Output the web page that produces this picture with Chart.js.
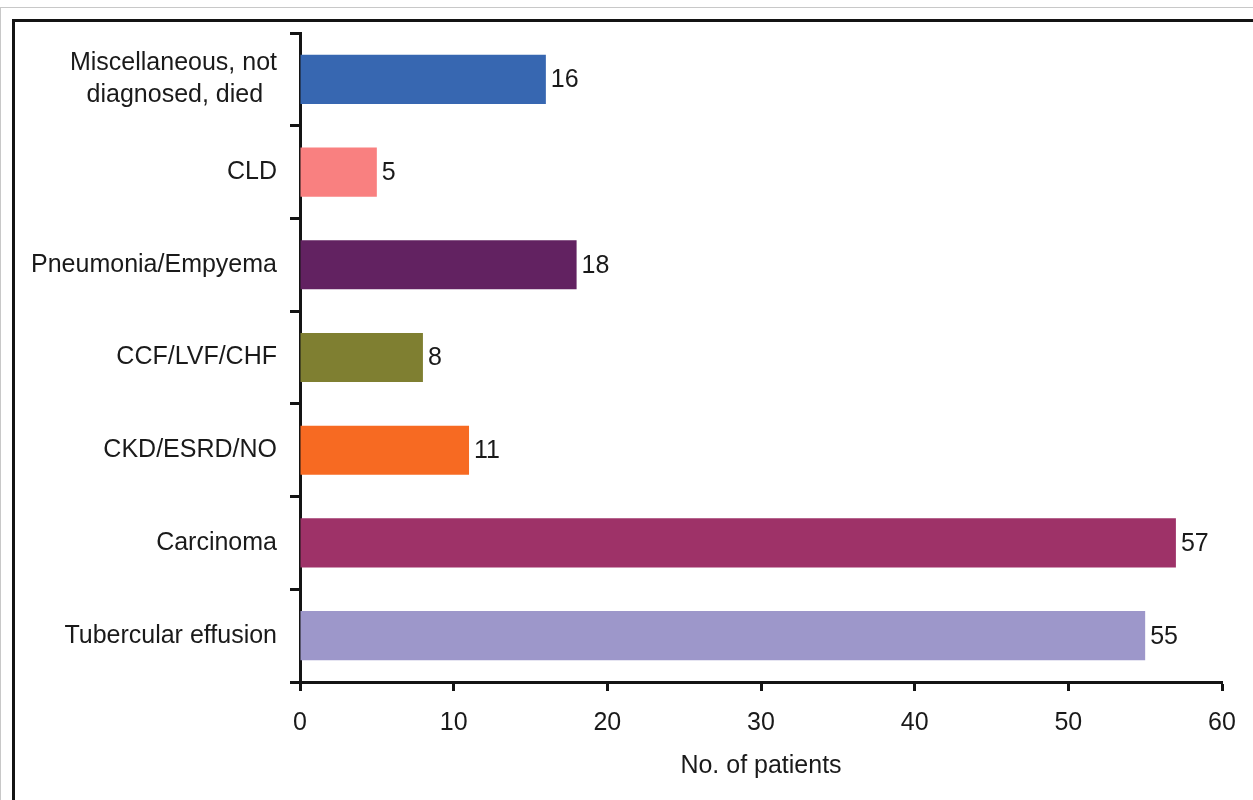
<!DOCTYPE html>
<html lang="en">
<head>
    <meta charset="UTF-8">
    <title>Patients by diagnosis</title>
    <script src="https://cdn.jsdelivr.net/npm/chart.js@4.4.0/dist/chart.umd.min.js"></script>
    <style>
        html, body { margin: 0; padding: 0; background: #fff; overflow: hidden; }
        .outer { position: absolute; top: 7px; left: 0; width: 1400px; height: 900px;
                 border-top: 1px solid #c8c8c8; border-left: 1px solid #c8c8c8; }
        .frame { position: absolute; top: 19px; left: 12px; width: 1400px; height: 900px;
                 border: 3px solid #141414; }
        #chart { position: absolute; top: 0; left: 0; }
    </style>
</head>
<body>
    <div class="outer"></div>
    <div class="frame"></div>
    <canvas id="chart" width="1253" height="800"></canvas>
<script>
    const categories = [
        ['Miscellaneous, not', 'diagnosed, died  '],
        'CLD',
        'Pneumonia/Empyema',
        'CCF/LVF/CHF',
        'CKD/ESRD/NO',
        'Carcinoma',
        'Tubercular effusion'
    ]
    const patients = [16, 5, 18, 8, 11, 57, 55]
    const barColors = ['#3767B1', '#F98080', '#622261', '#7F7F31', '#F76A22', '#9E3268', '#9D97CA']
    const xTicks = [0, 10, 20, 30, 40, 50, 60]

    const textColor = '#1a1a1a'
    const font = { family: "'Liberation Sans', Arial, sans-serif", size: 25 }

    // numbers at the end of each bar
    const valueLabels = {
        id: 'valueLabels',
        afterDatasetsDraw(chart) {
            const ctx = chart.ctx
            const meta = chart.getDatasetMeta(0)
            ctx.save()
            ctx.font = `${font.size}px ${font.family}`
            ctx.fillStyle = textColor
            ctx.textAlign = 'left'
            ctx.textBaseline = 'middle'
            meta.data.forEach((bar, i) => {
                ctx.fillText(patients[i], bar.x + 5, bar.y + 1)
            })
            ctx.restore()
        }
    }

    Chart.defaults.font.family = font.family
    Chart.defaults.font.size = font.size
    Chart.defaults.color = textColor

    new Chart(document.getElementById('chart'), {
        type: 'bar',
        data: {
            labels: categories,
            datasets: [{
                data: patients,
                backgroundColor: barColors,
                barPercentage: 0.53,
                categoryPercentage: 1
            }]
        },
        options: {
            indexAxis: 'y',
            responsive: false,
            animation: false,
            layout: { padding: { top: 33, right: 31, bottom: 0, left: 0 } },
            plugins: { legend: { display: false }, tooltip: { enabled: false } },
            scales: {
                x: {
                    min: 0,
                    max: 60,
                    afterBuildTicks: scale => { scale.ticks = xTicks.map(v => ({ value: v })) },
                    afterFit: scale => { scale.height = 118 },
                    border: { display: true, width: 3, color: '#141414' },
                    grid: { drawOnChartArea: false, drawTicks: true, tickLength: 9, tickWidth: 3, tickColor: '#141414' },
                    ticks: { padding: 17, maxRotation: 0 },
                    title: { display: true, text: 'No. of patients', padding: { top: 0, bottom: 19 } }
                },
                y: {
                    afterFit: scale => { scale.width = 300 },
                    border: { display: true, width: 3, color: '#141414' },
                    grid: { drawOnChartArea: false, drawTicks: true, tickLength: 10, tickWidth: 3, tickColor: '#141414' },
                    ticks: { padding: 13, autoSkip: false, font: { lineHeight: 1.3 } }
                }
            }
        },
        plugins: [valueLabels]
    })
</script>
</body>
</html>
